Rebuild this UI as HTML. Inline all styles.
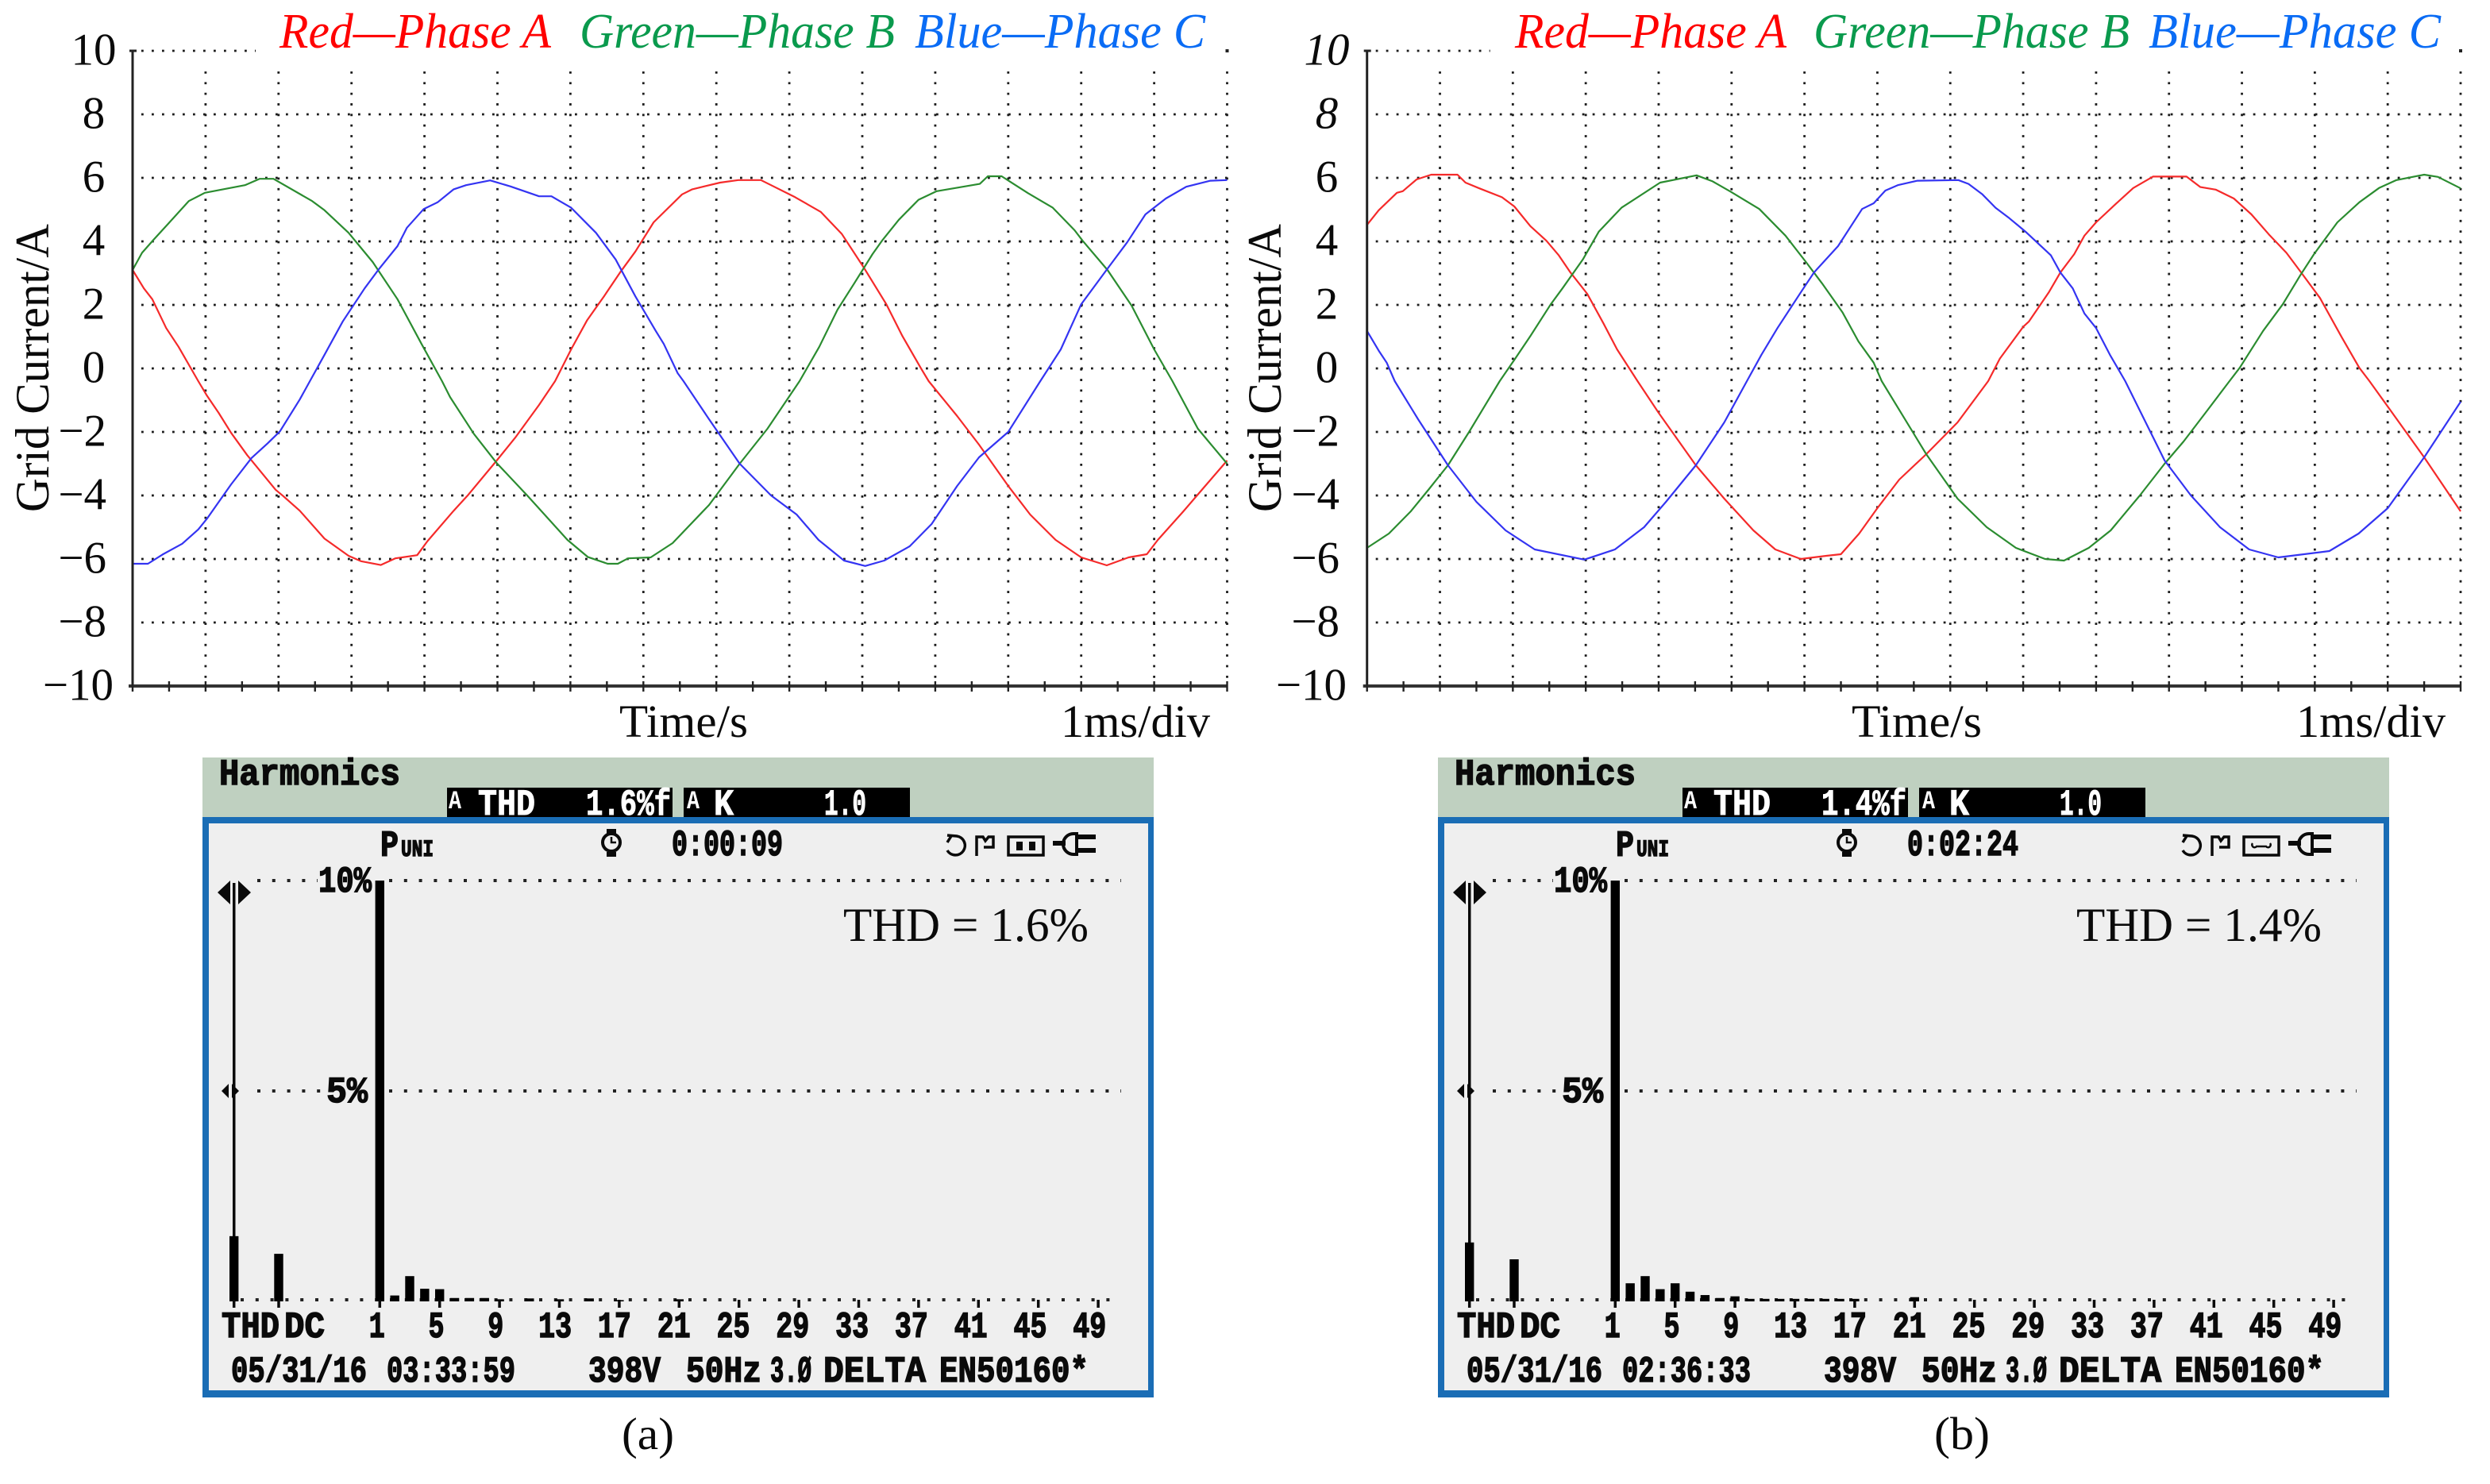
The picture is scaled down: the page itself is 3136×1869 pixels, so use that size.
<!DOCTYPE html>
<html lang="en">
<head>
<meta charset="utf-8">
<title>Grid current waveforms and harmonics</title>
<style>
html,body{margin:0;padding:0;background:#fff;}
svg{display:block;}
.serif{font-family:"Liberation Serif",serif;fill:#0a0a0a;}
.lcd{font-family:"Liberation Mono",monospace;font-weight:bold;fill:#0a0a0a;stroke:#0a0a0a;stroke-width:1.5px;font-size:46px;}
.inv{font-family:"Liberation Mono",monospace;font-weight:bold;fill:#fff;stroke:#fff;stroke-width:1px;font-size:46px;}
.inv-s{font-family:"Liberation Mono",monospace;font-weight:bold;fill:#fff;font-size:32px;}
.leg{font-family:"Liberation Serif",serif;font-style:italic;font-size:62px;}
</style>
</head>
<body>
<svg id="fig" xmlns="http://www.w3.org/2000/svg" width="3136" height="1869" viewBox="0 0 3136 1869">
<rect x="0" y="0" width="3136" height="1869" fill="#ffffff"/>

<g id="plot-a"></g>
<g id="plot-b"></g>

<text class="serif" font-size="60" transform="translate(61 645) rotate(-90)" textLength="363" lengthAdjust="spacingAndGlyphs">Grid Current/A</text>
<text class="serif" font-size="60" transform="translate(1613 645) rotate(-90)" textLength="363" lengthAdjust="spacingAndGlyphs">Grid Current/A</text>

<text class="leg" x="352" y="60" fill="#ff0000" textLength="342" lengthAdjust="spacingAndGlyphs">Red—Phase A</text>
<text class="leg" x="730" y="60" fill="#0a9a4d" textLength="397" lengthAdjust="spacingAndGlyphs">Green—Phase B</text>
<text class="leg" x="1152" y="60" fill="#0a6cf5" textLength="366" lengthAdjust="spacingAndGlyphs">Blue—Phase C</text>
<text class="leg" x="1908" y="60" fill="#ff0000" textLength="342" lengthAdjust="spacingAndGlyphs">Red—Phase A</text>
<text class="leg" x="2284" y="60" fill="#0a9a4d" textLength="398" lengthAdjust="spacingAndGlyphs">Green—Phase B</text>
<text class="leg" x="2706" y="60" fill="#0a6cf5" textLength="368" lengthAdjust="spacingAndGlyphs">Blue—Phase C</text>

<text class="serif" font-size="58" x="780" y="928" textLength="162" lengthAdjust="spacingAndGlyphs">Time/s</text>
<text class="serif" font-size="58" x="1336" y="928" textLength="188" lengthAdjust="spacingAndGlyphs">1ms/div</text>
<text class="serif" font-size="58" x="2332" y="928" textLength="164" lengthAdjust="spacingAndGlyphs">Time/s</text>
<text class="serif" font-size="58" x="2892" y="928" textLength="188" lengthAdjust="spacingAndGlyphs">1ms/div</text>

<!-- Panel A -->
<g id="panel-a">
  <rect x="255" y="954" width="1198" height="76" fill="#bfd0c0"/>
  <rect x="255" y="1029" width="1198" height="731" fill="#1a6db5"/>
  <rect x="263" y="1037" width="1183" height="714" fill="#efefef"/>
  <text class="lcd" x="276" y="988" textLength="228" lengthAdjust="spacingAndGlyphs">Harmonics</text>
  <rect x="563" y="992" width="284" height="37" fill="#000"/>
  <rect x="861" y="992" width="285" height="37" fill="#000"/>
  <text class="inv-s" x="565" y="1018" textLength="16" lengthAdjust="spacingAndGlyphs">A</text>
  <text class="inv" x="602" y="1026" textLength="72" lengthAdjust="spacingAndGlyphs">THD</text>
  <text class="inv" x="738" y="1026" textLength="107" lengthAdjust="spacingAndGlyphs">1.6%f</text>
  <text class="inv-s" x="865" y="1018" textLength="16" lengthAdjust="spacingAndGlyphs">A</text>
  <text class="inv" x="899" y="1026" textLength="25" lengthAdjust="spacingAndGlyphs">K</text>
  <text class="inv" x="1038" y="1026" textLength="53" lengthAdjust="spacingAndGlyphs">1.0</text>
  <text class="lcd" x="479" y="1078" textLength="23" lengthAdjust="spacingAndGlyphs">P</text>
  <text class="lcd" x="505" y="1078" style="font-size:30px" textLength="41" lengthAdjust="spacingAndGlyphs">UNI</text>
  <g fill="none" stroke="#0a0a0a">
    <circle cx="770" cy="1061" r="11" stroke-width="4"/>
    <path d="M764 1047h12M764 1076h12" stroke-width="6"/>
    <path d="M770 1054v7h6" stroke-width="2.5"/>
  </g>
  <text class="lcd" x="846" y="1077" textLength="140" lengthAdjust="spacingAndGlyphs">0:00:09</text>
  <g fill="none" stroke="#0a0a0a" stroke-width="3.5">
    <path d="M1198 1053l-5 8 M1193 1052l12 1a12 12 0 1 1-12 18" />
    <path d="M1230 1078v-24h8l3 5 4-5h6v13h-12"/>
    <rect x="1270" y="1054" width="44" height="23"/>
    <path d="M1326 1062h16" stroke-width="6"/>
    <path d="M1356 1050h-4a13 13 0 0 0 0 26h4z" stroke-width="4"/>
    <path d="M1356 1054h24M1356 1071h24" stroke-width="6"/>
  </g>
  <rect x="1280" y="1060" width="8" height="11" fill="#0a0a0a"/>
  <rect x="1296" y="1060" width="8" height="11" fill="#0a0a0a"/>
  <text class="lcd" x="401" y="1123" textLength="67" lengthAdjust="spacingAndGlyphs">10%</text>
  <text class="lcd" x="411" y="1388" textLength="52" lengthAdjust="spacingAndGlyphs">5%</text>
  <g id="bars-a"></g>
  <text class="lcd" x="279" y="1684" textLength="73" lengthAdjust="spacingAndGlyphs">THD</text>
  <text class="lcd" x="358" y="1684" textLength="51" lengthAdjust="spacingAndGlyphs">DC</text>
  <text class="lcd" x="291" y="1740" textLength="171" lengthAdjust="spacingAndGlyphs">05/31/16</text>
  <text class="lcd" x="487" y="1740" textLength="162" lengthAdjust="spacingAndGlyphs">03:33:59</text>
  <text class="lcd" x="741" y="1740" textLength="91" lengthAdjust="spacingAndGlyphs">398V</text>
  <text class="lcd" x="864" y="1740" textLength="95" lengthAdjust="spacingAndGlyphs">50Hz</text>
  <text class="lcd" x="970" y="1740" textLength="52" lengthAdjust="spacingAndGlyphs">3.Ø</text>
  <text class="lcd" x="1037" y="1740" textLength="129" lengthAdjust="spacingAndGlyphs">DELTA</text>
  <text class="lcd" x="1183" y="1740" textLength="188" lengthAdjust="spacingAndGlyphs">EN50160*</text>
  <text class="serif" font-size="60" x="1062" y="1185" textLength="309" lengthAdjust="spacingAndGlyphs">THD = 1.6%</text>
</g>

<!-- Panel B -->
<g id="panel-b" transform="translate(1556 0)">
  <rect x="255" y="954" width="1198" height="76" fill="#bfd0c0"/>
  <rect x="255" y="1029" width="1198" height="731" fill="#1a6db5"/>
  <rect x="263" y="1037" width="1183" height="714" fill="#efefef"/>
  <text class="lcd" x="276" y="988" textLength="228" lengthAdjust="spacingAndGlyphs">Harmonics</text>
  <rect x="563" y="992" width="284" height="37" fill="#000"/>
  <rect x="861" y="992" width="285" height="37" fill="#000"/>
  <text class="inv-s" x="565" y="1018" textLength="16" lengthAdjust="spacingAndGlyphs">A</text>
  <text class="inv" x="602" y="1026" textLength="72" lengthAdjust="spacingAndGlyphs">THD</text>
  <text class="inv" x="738" y="1026" textLength="107" lengthAdjust="spacingAndGlyphs">1.4%f</text>
  <text class="inv-s" x="865" y="1018" textLength="16" lengthAdjust="spacingAndGlyphs">A</text>
  <text class="inv" x="899" y="1026" textLength="25" lengthAdjust="spacingAndGlyphs">K</text>
  <text class="inv" x="1038" y="1026" textLength="53" lengthAdjust="spacingAndGlyphs">1.0</text>
  <text class="lcd" x="479" y="1078" textLength="23" lengthAdjust="spacingAndGlyphs">P</text>
  <text class="lcd" x="505" y="1078" style="font-size:30px" textLength="41" lengthAdjust="spacingAndGlyphs">UNI</text>
  <g fill="none" stroke="#0a0a0a">
    <circle cx="770" cy="1061" r="11" stroke-width="4"/>
    <path d="M764 1047h12M764 1076h12" stroke-width="6"/>
    <path d="M770 1054v7h6" stroke-width="2.5"/>
  </g>
  <text class="lcd" x="846" y="1077" textLength="140" lengthAdjust="spacingAndGlyphs">0:02:24</text>
  <g fill="none" stroke="#0a0a0a" stroke-width="3.5">
    <path d="M1198 1053l-5 8 M1193 1052l12 1a12 12 0 1 1-12 18" />
    <path d="M1230 1078v-24h8l3 5 4-5h6v13h-12"/>
    <rect x="1270" y="1054" width="44" height="23"/>
    <path d="M1326 1062h16" stroke-width="6"/>
    <path d="M1356 1050h-4a13 13 0 0 0 0 26h4z" stroke-width="4"/>
    <path d="M1356 1054h24M1356 1071h24" stroke-width="6"/>
    <path d="M1281 1062a3 3 0 1 0 5 4h12a3 3 0 1 0 5-4" stroke-width="2.5"/>
  </g>
  <text class="lcd" x="401" y="1123" textLength="67" lengthAdjust="spacingAndGlyphs">10%</text>
  <text class="lcd" x="411" y="1388" textLength="52" lengthAdjust="spacingAndGlyphs">5%</text>
  <g id="bars-b"></g>
  <text class="lcd" x="279" y="1684" textLength="73" lengthAdjust="spacingAndGlyphs">THD</text>
  <text class="lcd" x="358" y="1684" textLength="51" lengthAdjust="spacingAndGlyphs">DC</text>
  <text class="lcd" x="291" y="1740" textLength="171" lengthAdjust="spacingAndGlyphs">05/31/16</text>
  <text class="lcd" x="487" y="1740" textLength="162" lengthAdjust="spacingAndGlyphs">02:36:33</text>
  <text class="lcd" x="741" y="1740" textLength="91" lengthAdjust="spacingAndGlyphs">398V</text>
  <text class="lcd" x="864" y="1740" textLength="95" lengthAdjust="spacingAndGlyphs">50Hz</text>
  <text class="lcd" x="970" y="1740" textLength="52" lengthAdjust="spacingAndGlyphs">3.Ø</text>
  <text class="lcd" x="1037" y="1740" textLength="129" lengthAdjust="spacingAndGlyphs">DELTA</text>
  <text class="lcd" x="1183" y="1740" textLength="188" lengthAdjust="spacingAndGlyphs">EN50160*</text>
  <text class="serif" font-size="60" x="1059" y="1185" textLength="309" lengthAdjust="spacingAndGlyphs">THD = 1.4%</text>
</g>

<text class="serif" font-size="57" x="783" y="1825" textLength="66" lengthAdjust="spacingAndGlyphs">(a)</text>
<text class="serif" font-size="58" x="2436" y="1825" textLength="70" lengthAdjust="spacingAndGlyphs">(b)</text>
</svg>

<script>
// ---- Waveform data (time in divisions, current in amperes) ----
const yTickValues = [10, 8, 6, 4, 2, 0, -2, -4, -6, -8, -10];
const yTickLabels = ['10', '8', '6', '4', '2', '0', '−2', '−4', '−6', '−8', '−10'];
const italicTickLabelsB = ['10', '8'];

const aRedTime = [0,.155,.27,.46,.63,.9,1.02,1.18,1.35,1.57,1.96,2.07,2.29,2.63,2.96,3.13,3.4,3.6,3.9,4.04,4.4,4.6,4.99,5.24,5.57,5.79,6.01,6.23,6.46,6.68,6.89,7.14,7.53,7.67,8.05,8.3,8.61,8.75,9.08,9.43,9.72,10.03,10.33,10.55,10.8,10.91,11.3,11.6,12,12.3,12.65,13,13.35,13.65,13.9,14.05,14.4,14.7,15];
const aRedCurrent = [3.1,2.52,2.18,1.27,.68,-.4,-.86,-1.4,-2.03,-2.73,-3.82,-4.03,-4.48,-5.36,-5.9,-6.07,-6.19,-5.98,-5.88,-5.44,-4.48,-3.98,-2.9,-2.19,-1.15,-.4,.6,1.52,2.27,3.02,3.68,4.6,5.48,5.64,5.85,5.93,5.93,5.77,5.39,4.93,4.23,3.14,2.02,1.02,.02,-.4,-1.5,-2.4,-3.7,-4.6,-5.4,-5.95,-6.2,-5.95,-5.85,-5.4,-4.5,-3.7,-2.9];

const aGreenTime = [0,.13,.29,.49,.77,.99,1.54,1.74,1.93,2.46,2.63,2.96,3.29,3.63,3.96,4.24,4.35,4.68,4.99,5.4,5.96,6.24,6.51,6.65,6.79,7.1,7.4,7.9,8.32,8.7,9.14,9.41,9.66,9.89,10.14,10.27,10.5,10.77,11.02,11.61,11.72,11.91,12.27,12.61,12.91,13.02,13.36,13.69,14,14.25,14.6,15];
const aGreenCurrent = [3.1,3.64,4.06,4.56,5.27,5.53,5.77,5.97,5.97,5.27,4.98,4.27,3.35,2.18,.77,-.4,-.9,-2.07,-2.98,-3.98,-5.4,-5.94,-6.15,-6.15,-5.98,-5.95,-5.5,-4.3,-3,-1.9,-.4,.68,1.85,2.68,3.6,4.02,4.68,5.31,5.58,5.81,6.05,6.05,5.52,5.06,4.35,4.02,3.1,1.98,.6,-.4,-1.9,-3];

const aBlueTime = [0,.21,.41,.68,.9,1.02,1.35,1.63,1.85,2.02,2.29,2.43,2.63,2.88,3.18,3.38,3.63,3.76,3.99,4.18,4.4,4.57,4.9,5.18,5.57,5.74,6.01,6.35,6.62,6.89,7.17,7.28,7.47,7.55,7.9,8.32,8.75,9.1,9.4,9.75,10.04,10.3,10.65,10.95,11.3,11.6,12,12.44,12.72,13,13.36,13.63,13.88,14.16,14.44,14.77,15];
const aBlueCurrent = [-6.15,-6.15,-5.86,-5.52,-5.07,-4.73,-3.65,-2.82,-2.36,-1.98,-.98,-.4,.43,1.48,2.52,3.14,3.85,4.43,5.02,5.23,5.64,5.77,5.92,5.73,5.42,5.42,5.06,4.27,3.43,2.27,1.18,.77,-.15,-.4,-1.6,-3,-4,-4.6,-5.4,-6.05,-6.22,-6.05,-5.6,-4.9,-3.7,-2.8,-2,-.4,.6,2.02,3.14,3.97,4.85,5.35,5.72,5.91,5.93];

const bRedTime = [0,.16,.41,.49,.68,.88,1.24,1.35,1.54,1.85,2.02,2.24,2.46,2.63,2.79,3.02,3.24,3.43,3.71,4,4.51,4.9,5.3,5.6,5.95,6.3,6.5,6.75,7,7.3,7.67,8.1,8.52,8.68,9,9.08,9.35,9.51,9.7,9.84,10,10.27,10.51,10.78,11.24,11.43,11.64,11.89,12.13,12.37,12.61,12.8,13.07,13.37,13.61,13.75,14,14.5,15];
const bRedCurrent = [4.52,4.98,5.53,5.58,5.95,6.1,6.1,5.85,5.67,5.39,5.1,4.48,4.02,3.56,3.02,2.35,1.43,.6,-.4,-1.4,-3.05,-4.1,-5.1,-5.7,-6,-5.9,-5.85,-5.2,-4.4,-3.5,-2.7,-1.7,-.4,.31,1.31,1.48,2.39,3.02,3.6,4.18,4.6,5.18,5.68,6.04,6.04,5.71,5.63,5.35,4.85,4.22,3.64,3.06,2.22,.98,.02,-.4,-1.2,-2.8,-4.5];

const bGreenTime = [0,.3,.6,.85,1.11,1.4,1.82,2.02,2.24,2.52,2.68,2.96,3.18,3.49,4.02,4.52,4.74,4.99,5.38,5.74,6.02,6.24,6.52,6.74,6.95,7.06,7.67,8.1,8.5,8.9,9.3,9.56,9.9,10.2,10.6,10.94,11.2,11.5,11.83,11.97,12.29,12.56,12.8,12.99,13.31,13.61,13.88,14.12,14.5,14.69,15];
const bGreenCurrent = [-5.65,-5.2,-4.5,-3.8,-3.05,-2,-.4,.27,1.02,2.02,2.52,3.43,4.31,5.06,5.85,6.08,5.89,5.56,5.02,4.18,3.35,2.68,1.77,.85,.18,-.4,-2.7,-4.1,-5,-5.65,-6,-6.05,-5.65,-5.1,-4,-3,-2.3,-1.4,-.4,.02,1.18,2.02,2.93,3.6,4.6,5.23,5.68,5.93,6.1,6.03,5.67];

const bBlueTime = [0,.16,.27,.38,.7,1.11,1.5,1.9,2.3,2.98,3.4,3.8,4.1,4.51,4.9,5.21,5.41,5.63,5.96,6.13,6.46,6.79,6.95,7.11,7.28,7.55,8.11,8.25,8.44,8.62,8.81,9.03,9.38,9.51,9.68,9.84,10,10.19,10.4,10.94,11.3,11.7,12.1,12.5,13.2,13.6,14,14.5,15];
const bBlueCurrent = [1.18,.56,.18,-.4,-1.6,-3.05,-4.2,-5.1,-5.7,-6.02,-5.7,-5,-4.2,-3.05,-1.7,-.4,.43,1.27,2.43,3.02,3.85,5.02,5.2,5.6,5.77,5.91,5.93,5.81,5.48,5.06,4.73,4.31,3.56,3.02,2.52,1.73,1.27,.43,-.4,-2.9,-4,-5,-5.7,-5.95,-5.75,-5.2,-4.4,-2.8,-1.05];

// ---- Harmonic spectrum data (percent of fundamental) ----
const harmonicOrders = [1,2,3,4,5,6,7,8,9,11,13,15,17,21];
const harmonicsA = [10,.14,.6,.3,.29,.08,.08,.08,.05,.07,.05,.07,.03,.05];
const harmonicOrdersB = [1,2,3,4,5,6,7,8,9,10,11,12,13,14,15,16,17,21];
const harmonicsB = [10,.43,.6,.29,.43,.23,.15,.08,.12,.06,.06,.06,.06,.06,.06,.06,.06,.1];
const thdPercentA = 1.55;
const thdPercentB = 1.4;
const dcPercentA = 1.13;
const dcPercentB = 1.0;
const harmonicTickOrders = [1,5,9,13,17,21,25,29,33,37,41,45,49];
const harmonicTickLabels = ['1','5','9','13','17','21','25','29','33','37','41','45','49'];

const SVGNS = 'http://www.w3.org/2000/svg';
function mk(tag, parent) {
  const el = document.createElementNS(SVGNS, tag);
  parent.appendChild(el);
  return el;
}
function line(parent, x1, y1, x2, y2) {
  const l = mk('line', parent);
  l.setAttribute('x1', x1);
  l.setAttribute('y1', y1);
  l.setAttribute('x2', x2);
  l.setAttribute('y2', y2);
  return l;
}

function drawPlot(id, left, right, labelShift, italicLabels, series) {
  const root = document.getElementById(id);
  const xOf = t => left + t * (right - left) / 15;
  const yOf = v => 464 - 40 * v;
  const DOT = '#1c1c1c';

  // grid
  for (let v of yTickValues) {
    if (v === 10 || v === -10) continue;
    const g = line(root, left + 11, yOf(v), right, yOf(v));
    g.setAttribute('stroke', DOT);
    g.setAttribute('stroke-width', '2.8');
    g.setAttribute('stroke-dasharray', '2.8 10.2');
    
    
  }
  const top = line(root, left + 11, yOf(10), left + 155, yOf(10));
  top.setAttribute('stroke', DOT);
  top.setAttribute('stroke-width', '2.8');
  top.setAttribute('stroke-dasharray', '2.8 10.2');
  
  
  for (let d = 1; d <= 15; d++) {
    const g = line(root, xOf(d), 90, xOf(d), 864);
    g.setAttribute('stroke', DOT);
    g.setAttribute('stroke-width', '2.8');
    g.setAttribute('stroke-dasharray', '2.8 10.55');
    
    
  }

  // series
  for (const s of series) {
    const p = mk('polyline', root);
    p.setAttribute('points', s.time.map((t, i) => xOf(t).toFixed(1) + ',' + yOf(s.current[i]).toFixed(1)).join(' '));
    p.setAttribute('fill', 'none');
    p.setAttribute('stroke', s.color);
    p.setAttribute('stroke-width', '2.2');
    p.setAttribute('stroke-linejoin', 'round');
    
    
  }

  // axes
  const ya = line(root, left, yOf(10), left, yOf(-10));
  ya.setAttribute('stroke', '#222');
  ya.setAttribute('stroke-width', '3');
  
  
  const yc = line(root, left - 4, yOf(10), left + 5, yOf(10));
  yc.setAttribute('stroke', '#222');
  yc.setAttribute('stroke-width', '3');
  
  
  const xa = line(root, left - 5, yOf(-10), right, yOf(-10));
  xa.setAttribute('stroke', '#333');
  xa.setAttribute('stroke-width', '4');
  
  
  for (let d = 0; d <= 30; d++) {
    const tk = line(root, xOf(d / 2), 858, xOf(d / 2), 871);
    tk.setAttribute('stroke', '#222');
    tk.setAttribute('stroke-width', '2.4');
    
    
  }

  // tick labels
  yTickValues.forEach((v, i) => {
    const t = mk('text', root);
    const lab = yTickLabels[i];
    let ax = 118, anchor = 'middle';
    if (v < 0) { ax = v === -10 ? 143 : 134; anchor = 'end'; }
    t.setAttribute('x', ax + labelShift);
    t.setAttribute('y', yOf(v) + 17.5);
    t.setAttribute('text-anchor', anchor);
    t.setAttribute('font-size', '57');
    t.setAttribute('class', 'serif');
    if (italicLabels.includes(lab)) t.setAttribute('font-style', 'italic');
    t.textContent = lab;
    
    
  });

  // corner dot
  const c = mk('rect', root);
  c.setAttribute('x', right - 2);
  c.setAttribute('y', yOf(10) - 2);
  c.setAttribute('width', 4);
  c.setAttribute('height', 4);
  c.setAttribute('fill', '#222');
  
  
}

function drawBars(id, orders, values, thd, dc) {
  const root = document.getElementById(id);
  const ZERO = 1639;
  const yOf = p => ZERO - 53 * p;
  const xOf = h => 478.3 + (h - 1) * 18.85;
  const THD_X = 294.7, DC_X = 351;

  const hDots = (y, a, b, nm) => {
    const d = line(root, a, y, b, y);
    d.setAttribute('stroke', '#222');
    d.setAttribute('stroke-width', '4');
    d.setAttribute('stroke-dasharray', '4 14.8');
    
    
  };
  hDots(yOf(10), 324, 400, 'gridline-10-percent-left');
  hDots(yOf(10), 490, 1412, 'gridline-10-percent-right');
  hDots(yOf(5), 324, 405, 'gridline-5-percent-left');
  hDots(yOf(5), 490, 1412, 'gridline-5-percent-right');
  hDots(ZERO - 2, 303, 1412, 'baseline-dots');

  // cursor
  const cur = mk('rect', root);
  cur.setAttribute('x', 293);
  cur.setAttribute('y', 1112);
  cur.setAttribute('width', 3.5);
  cur.setAttribute('height', 528);
  cur.setAttribute('fill', '#0a0a0a');
  
  
  const arrows = mk('path', root);
  arrows.setAttribute('d', 'M274 1124l16-15v30zM316 1124l-16-15v30zM279 1374l9-9v18zM301 1374l-9-9v18z');
  arrows.setAttribute('fill', '#0a0a0a');
  
  

  const bar = (cx, pct) => {
    const r = mk('rect', root);
    const y = yOf(pct);
    r.setAttribute('x', cx - 5.7);
    r.setAttribute('y', y);
    r.setAttribute('width', 11.4);
    r.setAttribute('height', ZERO - y);
    r.setAttribute('fill', '#000');
    
    
  };
  bar(THD_X, thd);
  bar(DC_X, dc);
  orders.forEach((h, i) => bar(xOf(h), values[i]));

  const tickXs = [THD_X, DC_X].concat(harmonicTickOrders.map(xOf));
  tickXs.forEach(x => {
    const t = line(root, x, ZERO - 2, x, ZERO + 8);
    t.setAttribute('stroke', '#0a0a0a');
    t.setAttribute('stroke-width', '3.5');
    
    
  });

  harmonicTickOrders.forEach((h, i) => {
    const t = mk('text', root);
    const lab = harmonicTickLabels[i];
    t.setAttribute('x', 474.7 + (h - 1) * 18.7);
    t.setAttribute('y', 1684);
    t.setAttribute('text-anchor', 'middle');
    t.setAttribute('class', 'lcd');
    t.setAttribute('textLength', lab.length === 1 ? 20 : 42);
    t.setAttribute('lengthAdjust', 'spacingAndGlyphs');
    t.textContent = lab;
    
    
  });
}

const RED = '#f52a2a', GREEN = '#2b8c30', BLUE = '#3434f2';
drawPlot('plot-a', 167, 1545.5, 0, [], [
  {name: 'phase-a-line', color: RED, time: aRedTime, current: aRedCurrent},
  {name: 'phase-b-line', color: GREEN, time: aGreenTime, current: aGreenCurrent},
  {name: 'phase-c-line', color: BLUE, time: aBlueTime, current: aBlueCurrent}
]);
drawPlot('plot-b', 1721.7, 3099, 1553, italicTickLabelsB, [
  {name: 'phase-a-line', color: RED, time: bRedTime, current: bRedCurrent},
  {name: 'phase-b-line', color: GREEN, time: bGreenTime, current: bGreenCurrent},
  {name: 'phase-c-line', color: BLUE, time: bBlueTime, current: bBlueCurrent}
]);
drawBars('bars-a', harmonicOrders, harmonicsA, thdPercentA, dcPercentA);
drawBars('bars-b', harmonicOrdersB, harmonicsB, thdPercentB, dcPercentB);
</script>
</body>
</html>
